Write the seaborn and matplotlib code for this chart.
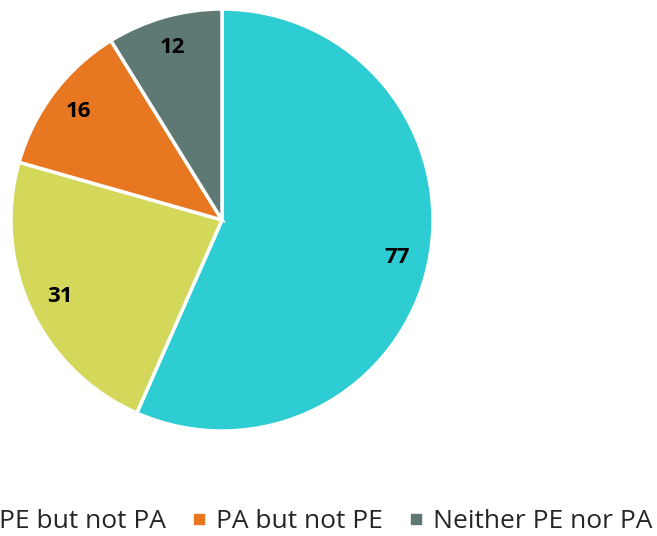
import matplotlib.pyplot as plt
import seaborn as sns
from matplotlib.lines import Line2D

# data
categories = ["Both PE and PA", "PE but not PA", "PA but not PE", "Neither PE nor PA"]
values = [77, 31, 16, 12]
colors = ["#2ECCD3", "#D4D85A", "#E87722", "#5E7874"]

sns.set_theme(style="white")
plt.rcParams['font.family'] = ['Open Sans', 'DejaVu Sans']

fig = plt.figure(figsize=(6.57, 5.36), dpi=100)
ax = fig.add_axes([11 / 657, 105 / 536, 422 / 657, 422 / 536])

wedges, texts, autotexts = ax.pie(
    values, colors=colors, startangle=90, counterclock=False,
    autopct=lambda p: f"{p * sum(values) / 100:.0f}", pctdistance=0.85,
    wedgeprops=dict(edgecolor="white", linewidth=2.5),
    textprops=dict(fontsize=16, fontweight="bold", color="black"),
)
ax.set_xlim(-1, 1)
ax.set_ylim(-1, 1)

handles = [Line2D([], [], marker="s", linestyle="none", markersize=7.5,
                  markerfacecolor=c, markeredgecolor=c) for c in colors]
fig.legend(handles, categories, loc="center right", ncol=4,
           bbox_to_anchor=(652 / 657, 1 - 522 / 536), frameon=False,
           fontsize=19, handlelength=0.45, handletextpad=0.4,
           columnspacing=1.05, borderpad=0, borderaxespad=0)

fig.savefig("out.png", dpi=100)
